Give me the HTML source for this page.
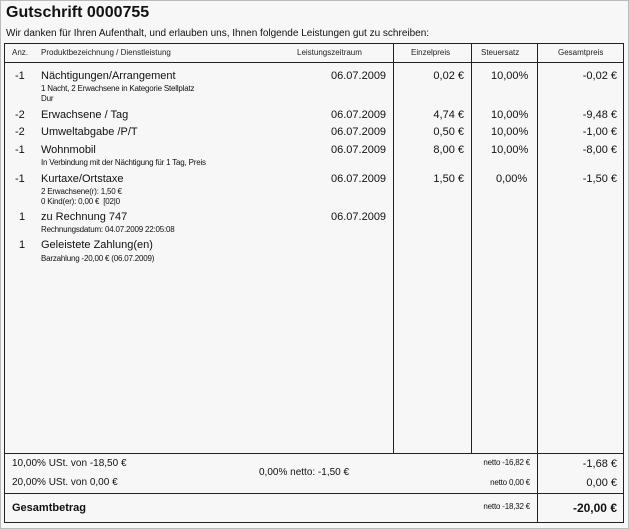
<!DOCTYPE html>
<html><head><meta charset="utf-8"><style>
body{margin:0;width:629px;height:529px;background:#f7f7f7;font-family:"Liberation Sans",sans-serif;color:#111;position:relative;overflow:hidden}
.frame{position:absolute;left:0;top:0;width:627px;height:527px;border:1px solid #bbb}
div.t{position:absolute;white-space:nowrap}
.m{font-size:11px}
.s{font-size:8px;letter-spacing:-0.2px}
.h{font-size:8px;color:#222}
.r{text-align:right}
.c{text-align:center}
.l{position:absolute;background:#222}
</style></head><body>
<div class="frame"></div>
<div class="t" style="left:6px;top:4px;font-size:16px;font-weight:bold">Gutschrift 0000755</div>
<div class="t" style="left:6px;top:28px;font-size:10px">Wir danken für Ihren Aufenthalt, und erlauben uns, Ihnen folgende Leistungen gut zu schreiben:</div>
<!-- box -->
<div class="l" style="left:4px;top:43px;width:620px;height:1px"></div>
<div class="l" style="left:4px;top:43px;width:1px;height:480px"></div>
<div class="l" style="left:623px;top:43px;width:1px;height:480px"></div>
<div class="l" style="left:4px;top:522px;width:620px;height:1px"></div>
<div class="l" style="left:4px;top:62px;width:620px;height:1px"></div>
<div class="l" style="left:4px;top:453px;width:620px;height:1px"></div>
<div class="l" style="left:4px;top:493px;width:620px;height:1px"></div>
<div class="l" style="left:393px;top:43px;width:1px;height:410px"></div>
<div class="l" style="left:471px;top:43px;width:1px;height:410px"></div>
<div class="l" style="left:537px;top:43px;width:1px;height:480px"></div>
<!-- header -->
<div class="t h" style="left:12px;top:48px">Anz.</div>
<div class="t h" style="left:41px;top:48px">Produktbezeichnung / Dienstleistung</div>
<div class="t h" style="left:297px;top:48px">Leistungszeitraum</div>
<div class="t h" style="left:411px;top:48px">Einzelpreis</div>
<div class="t h" style="left:481px;top:48px">Steuersatz</div>
<div class="t h" style="left:558px;top:48px">Gesamtpreis</div>
<!-- rows -->
<div class="t m" style="left:15px;top:70px">-1</div>
<div class="t m" style="left:41px;top:70px">Nächtigungen/Arrangement</div>
<div class="t s" style="left:41px;top:84px">1 Nacht, 2 Erwachsene in Kategorie Stellplatz</div>
<div class="t s" style="left:41px;top:94px">Dur</div>
<div class="t m" style="left:15px;top:109px">-2</div>
<div class="t m" style="left:41px;top:109px">Erwachsene / Tag</div>
<div class="t m" style="left:15px;top:126px">-2</div>
<div class="t m" style="left:41px;top:126px">Umweltabgabe /P/T</div>
<div class="t m" style="left:15px;top:144px">-1</div>
<div class="t m" style="left:41px;top:144px">Wohnmobil</div>
<div class="t s" style="left:41px;top:158px">In Verbindung mit der Nächtigung für 1 Tag, Preis</div>
<div class="t m" style="left:15px;top:173px">-1</div>
<div class="t m" style="left:41px;top:173px">Kurtaxe/Ortstaxe</div>
<div class="t s" style="left:41px;top:187px">2 Erwachsene(r): 1,50 €</div>
<div class="t s" style="left:41px;top:197px">0 Kind(er): 0,00 €&nbsp; [02|0</div>
<div class="t m" style="left:19px;top:211px">1</div>
<div class="t m" style="left:41px;top:211px">zu Rechnung 747</div>
<div class="t s" style="left:41px;top:225px">Rechnungsdatum: 04.07.2009 22:05:08</div>
<div class="t m" style="left:19px;top:239px">1</div>
<div class="t m" style="left:41px;top:239px">Geleistete Zahlung(en)</div>
<div class="t s" style="left:41px;top:254px">Barzahlung -20,00 € (06.07.2009)</div>
<!-- right columns -->
<div class="t m" style="left:331px;top:70px">06.07.2009</div>
<div class="t m" style="left:331px;top:109px">06.07.2009</div>
<div class="t m" style="left:331px;top:126px">06.07.2009</div>
<div class="t m" style="left:331px;top:144px">06.07.2009</div>
<div class="t m" style="left:331px;top:173px">06.07.2009</div>
<div class="t m" style="left:331px;top:211px">06.07.2009</div>
<div class="t m r" style="left:400px;width:64px;top:70px">0,02 €</div>
<div class="t m r" style="left:400px;width:64px;top:109px">4,74 €</div>
<div class="t m r" style="left:400px;width:64px;top:126px">0,50 €</div>
<div class="t m r" style="left:400px;width:64px;top:144px">8,00 €</div>
<div class="t m r" style="left:400px;width:64px;top:173px">1,50 €</div>
<div class="t m" style="left:491px;top:70px">10,00%</div>
<div class="t m" style="left:491px;top:109px">10,00%</div>
<div class="t m" style="left:491px;top:126px">10,00%</div>
<div class="t m" style="left:491px;top:144px">10,00%</div>
<div class="t m" style="left:496px;top:173px">0,00%</div>
<div class="t m r" style="left:540px;width:77px;top:70px">-0,02 €</div>
<div class="t m r" style="left:540px;width:77px;top:109px">-9,48 €</div>
<div class="t m r" style="left:540px;width:77px;top:126px">-1,00 €</div>
<div class="t m r" style="left:540px;width:77px;top:144px">-8,00 €</div>
<div class="t m r" style="left:540px;width:77px;top:173px">-1,50 €</div>
<!-- footer -->
<div class="t" style="left:12px;top:458px;font-size:10px">10,00% USt. von -18,50 €</div>
<div class="t" style="left:12px;top:477px;font-size:10px">20,00% USt. von 0,00 €</div>
<div class="t" style="left:259px;top:467px;font-size:10px">0,00% netto: -1,50 €</div>
<div class="t s r" style="left:440px;width:90px;top:458px">netto -16,82 €</div>
<div class="t s r" style="left:440px;width:90px;top:478px">netto 0,00 €</div>
<div class="t m r" style="left:540px;width:77px;top:458px">-1,68 €</div>
<div class="t m r" style="left:540px;width:77px;top:477px">0,00 €</div>
<div class="t" style="left:12px;top:502px;font-size:11px;font-weight:bold">Gesamtbetrag</div>
<div class="t s r" style="left:440px;width:90px;top:502px">netto -18,32 €</div>
<div class="t r" style="left:540px;width:77px;top:501px;font-size:12px;font-weight:bold">-20,00 €</div>
</body></html>
